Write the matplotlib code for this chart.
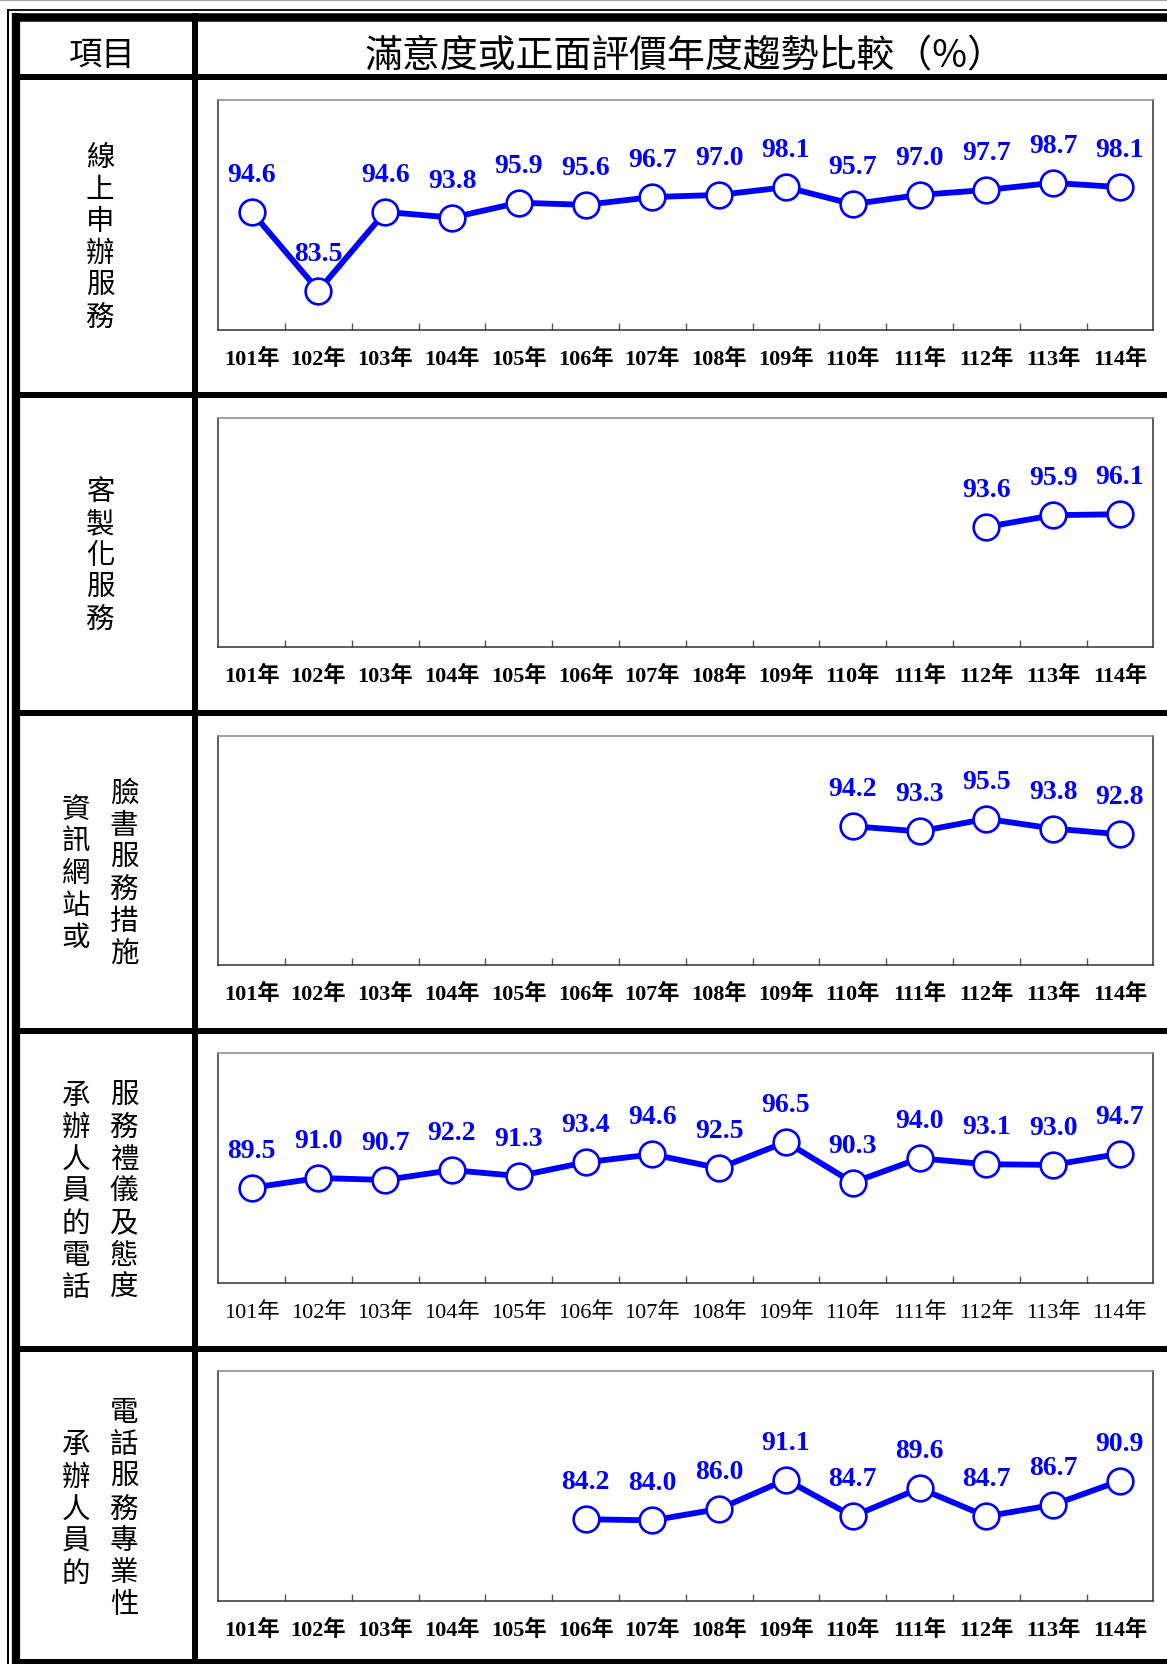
import numpy as np
import matplotlib.pyplot as plt

years = ['101年', '102年', '103年', '104年', '105年', '106年', '107年',
         '108年', '109年', '110年', '111年', '112年', '113年', '114年']
nan = np.nan
online = [94.6, 83.5, 94.6, 93.8, 95.9, 95.6, 96.7, 97.0, 98.1, 95.7, 97.0, 97.7, 98.7, 98.1]
custom = [nan] * 11 + [93.6, 95.9, 96.1]
website = [nan] * 9 + [94.2, 93.3, 95.5, 93.8, 92.8]
phone_manner = [89.5, 91.0, 90.7, 92.2, 91.3, 93.4, 94.6, 92.5, 96.5, 90.3, 94.0, 93.1, 93.0, 94.7]
phone_prof = [nan] * 5 + [84.2, 84.0, 86.0, 91.1, 84.7, 89.6, 84.7, 86.7, 90.9]

series = [online, custom, website, phone_manner, phone_prof]
# row titles, one list entry per vertical column (left to right)
row_titles = [
    ['線上申辦服務'],
    ['客製化服務'],
    ['資訊網站或', '臉書服務措施'],
    ['承辦人員的電話', '服務禮儀及態度'],
    ['承辦人員的', '電話服務專業性'],
]
header_item = '項目'
header_title = '滿意度或正面評價年度趨勢比較（%）'

W, H = 1167, 1665
fig = plt.figure(figsize=(W / 100, H / 100), dpi=100)

# background axes in pixel coordinates for the table frame
bg = fig.add_axes([0, 0, 1, 1])
bg.set_xlim(0, W)
bg.set_ylim(H, 0)
bg.axis('off')


def hline(y, x0, x1, px, color='black'):
    bg.plot([x0, x1], [y, y], color=color, lw=px * 0.72, solid_capstyle='butt')


def vline(x, y0, y1, px, color='black'):
    bg.plot([x, x], [y0, y1], color=color, lw=px * 0.72, solid_capstyle='butt')


hline(0.7, 0, W, 1.5, color='#888888')
hline(10.8, 7.3, W, 1.8)
hline(18.4, 11.7, W, 8.5)
vline(8.3, 10, H, 2)
vline(15.8, 14, H, 8.3)
vline(195.3, 14, H, 6)

pitch = 317.8
seps = [78.3 + i * pitch for i in range(6)]
for y in seps[:5]:
    hline(y, 11.7, W, 6)
hline(1663.5, 11.7, W, 6)

cjk = 'Noto Sans CJK TC'
bg.text(102, 56, header_item, fontsize=24, family=cjk, ha='center', va='center')
bg.text(685, 57, header_title, fontsize=27.3, family=cjk, ha='center', va='center')


def vertical(x, yc, s, step=32.0):
    n = len(s)
    y0 = yc - (n - 1) * step / 2
    for k, ch in enumerate(s):
        bg.text(x, y0 + k * step, ch, fontsize=20.5, family=cjk, ha='center', va='center')


for r, cols in enumerate(row_titles):
    yc = (seps[r] + seps[r + 1]) / 2 + 1
    if len(cols) == 1:
        vertical(100, yc, cols[0])
    else:
        vertical(76, yc, cols[0])
        vertical(124, yc, cols[1])

ylims = [(78, 110.4), (70, 115), (70, 110), (75, 110), (70, 110)]
ax_left, ax_right = 218.3, 1153.3
ax_h = 229.5
x = np.arange(len(years))

for r, vals in enumerate(series):
    top = 101 + r * pitch
    ax = fig.add_axes([ax_left / W, 1 - (top + ax_h) / H,
                       (ax_right - ax_left) / W, ax_h / H])
    ax.plot(x, vals, color='#0000FF', lw=4.2, marker='o', ms=18.5,
            mfc='white', mec='#0000FF', mew=1.9, zorder=3)
    for i, v in enumerate(vals):
        if np.isnan(v):
            continue
        ax.annotate(f'{v:.1f}', (i, v), xytext=(0, 27), textcoords='offset points',
                    ha='center', va='center', color='#0000FF', fontsize=20,
                    fontweight='bold', family='Liberation Serif')
    ax.set_xlim(-0.5, len(years) - 0.5)
    ax.set_ylim(*ylims[r])
    ax.set_yticks([])
    ax.set_xticks(x)
    ax.set_xticks(x[:-1] + 0.5, minor=True)
    ax.tick_params(axis='x', which='major', length=0, pad=13)
    ax.tick_params(axis='x', which='minor', direction='in', length=4.8,
                   width=1, color='#555555')
    weight = 'normal' if r == 3 else 'bold'
    ax.set_xticklabels(years, fontsize=16, fontweight=weight,
                       family=['Liberation Serif', cjk])
    for side in ['left', 'right', 'bottom']:
        ax.spines[side].set_color('#333333')
        ax.spines[side].set_linewidth(1.1)
    ax.spines['top'].set_color('#888888')
    ax.spines['top'].set_linewidth(1.1)

fig.savefig('out.png', dpi=100)
